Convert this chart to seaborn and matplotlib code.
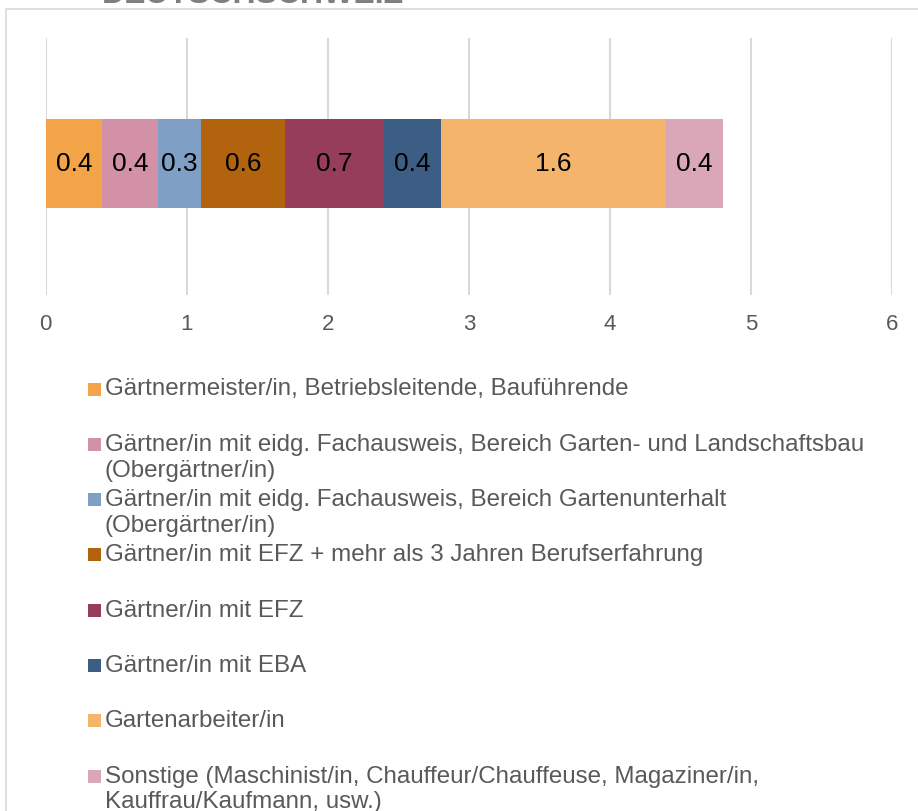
import matplotlib
matplotlib.use("Agg")
import matplotlib.pyplot as plt
from matplotlib.patches import Rectangle
import seaborn as sns
import pandas as pd
import numpy as np

# Staff categories and their average counts
categories = [
    "Gärtnermeister/in, Betriebsleitende, Bauführende",
    "Gärtner/in mit eidg. Fachausweis, Bereich Garten- und Landschaftsbau\n(Obergärtner/in)",
    "Gärtner/in mit eidg. Fachausweis, Bereich Gartenunterhalt\n(Obergärtner/in)",
    "Gärtner/in mit EFZ + mehr als 3 Jahren Berufserfahrung",
    "Gärtner/in mit EFZ",
    "Gärtner/in mit EBA",
    "Gartenarbeiter/in",
    "Sonstige (Maschinist/in, Chauffeur/Chauffeuse, Magaziner/in,\nKauffrau/Kaufmann, usw.)",
]
values = [0.4, 0.4, 0.3, 0.6, 0.7, 0.4, 1.6, 0.4]
colors = ["#F4A448", "#D291A6", "#7F9FC4", "#B1640D",
          "#953D5B", "#3C5E85", "#F4B46C", "#D9A7B7"]
x_ticks = [0, 1, 2, 3, 4, 5, 6]
title = "DEUTSCHSCHWEIZ"

W, H = 918, 812
sns.set_theme(style="white")
plt.rcParams["font.family"] = ["Liberation Sans", "DejaVu Sans"]

fig = plt.figure(figsize=(W / 100, H / 100), dpi=100)

# chart-area frame
fig.patches.append(Rectangle((6 / W, -0.1), 1.2, 1 - 9.5 / H + 0.1,
                             transform=fig.transFigure, fill=False,
                             edgecolor="#D9D9D9", linewidth=1.2))

ax = fig.add_axes([45.6 / W, 1 - 296 / H, (892 - 45.6) / W, (296 - 39) / H])

df = pd.DataFrame({"cat": categories, "val": values, "color": colors})
df["end"] = np.cumsum(df["val"])
df["start"] = df["end"] - df["val"]
df["row"] = "all"

# stacked bar: draw cumulative ends from the longest down
for i in range(len(df) - 1, -1, -1):
    sub = df.iloc[[i]]
    sns.barplot(data=sub, x="end", y="row", orient="h", color=df["color"][i],
                width=0.346, saturation=1, ax=ax, linewidth=0, edgecolor="none")

for s, v in zip(df["start"], df["val"]):
    ax.text(s + v / 2, 0, f"{v:.1f}", ha="center", va="center",
            fontsize=19, color="black")

ax.set_xlim(0, 6)
ax.set_ylim(0.512, -0.488)
ax.set_xticks(x_ticks)
ax.set_xticklabels([str(t) for t in x_ticks], fontsize=16, color="#595959")
ax.set_yticks([])
ax.set_xlabel("")
ax.set_ylabel("")
ax.tick_params(axis="x", length=0, pad=13)
ax.grid(axis="x", color="#D9D9D9", linewidth=1.5)
ax.set_axisbelow(True)
for sp in ax.spines.values():
    sp.set_visible(False)

# title (partly above the figure edge)
fig.text(102 / W, 1 - 3 / H, title, fontsize=23, fontweight="bold",
         color="#7F7F7F", ha="left", va="baseline")

# legend
y0, step = 390, 55.3
for i, (lab, col) in enumerate(zip(categories, colors)):
    yc = y0 + i * step
    fig.patches.append(Rectangle((88 / W, 1 - (yc + 6.5) / H), 13 / W, 13 / H,
                                 transform=fig.transFigure, facecolor=col,
                                 edgecolor="none"))
    fig.text(105 / W, 1 - (yc - 11.5) / H, lab, fontsize=17.4, color="#595959",
             ha="left", va="top", linespacing=1.22)

fig.savefig("out.png", dpi=100)
